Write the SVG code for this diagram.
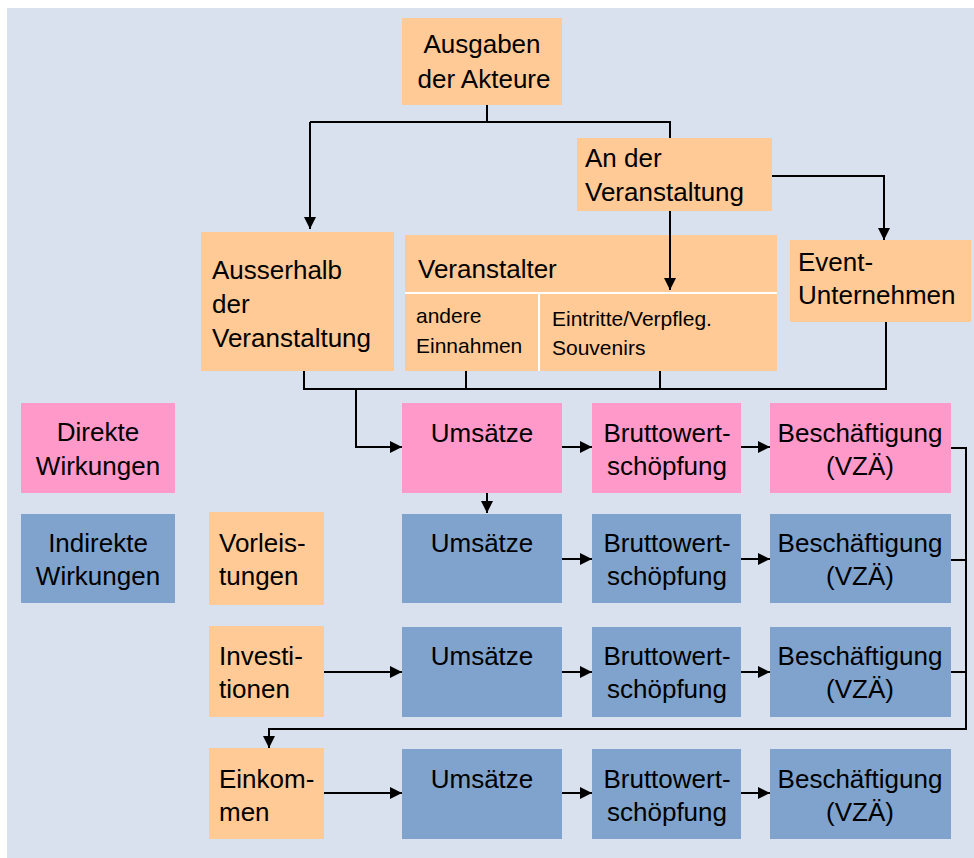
<svg xmlns="http://www.w3.org/2000/svg" width="974" height="858" viewBox="0 0 974 858">
<style>
text{font-family:"Liberation Sans",Arial,sans-serif;fill:#000}
.b{font-size:26px}
.s{font-size:21px}
.c{text-anchor:middle}
.o{fill:#FFCA96}
.p{fill:#FF99C9}
.u{fill:#7FA3CC}
.ln{fill:none;stroke:#000;stroke-width:2}
.wl{stroke:#fff;stroke-width:2}
</style>
<defs>
<marker id="ah" markerWidth="12" markerHeight="12" viewBox="0 0 12 12" refX="12" refY="6" orient="auto" markerUnits="userSpaceOnUse">
<path d="M0,0 L12,6 L0,12 Z" fill="#000"/>
</marker>
</defs>
<rect x="7" y="8" width="967" height="850" fill="#D8E1ED"/>

<g id="ausgaben"><rect class="o" x="402" y="18" width="160" height="87"/>
<text class="b c" x="482" y="53">Ausgaben</text><text class="b c" x="484" y="88">der Akteure</text></g>

<g id="an-der"><rect class="o" x="577" y="138" width="195" height="73"/>
<text class="b" x="585" y="167">An der</text><text class="b" x="585" y="201">Veranstaltung</text></g>

<g id="ausserhalb"><rect class="o" x="201" y="232" width="193" height="139"/>
<text class="b" x="212" y="279">Ausserhalb</text><text class="b" x="212" y="313">der</text><text class="b" x="212" y="347">Veranstaltung</text></g>

<g id="veranstalter"><rect class="o" x="405" y="235" width="372" height="136"/>
<line class="wl" x1="405" y1="293" x2="777" y2="293"/>
<line class="wl" x1="539" y1="293" x2="539" y2="371"/>
<text class="b" x="418" y="278">Veranstalter</text>
<text class="s" x="416" y="323">andere</text><text class="s" x="416" y="353">Einnahmen</text>
<text class="s" x="552" y="326">Eintritte/Verpfleg.</text><text class="s" x="552" y="355">Souvenirs</text></g>

<g id="event"><rect class="o" x="790" y="240" width="181" height="82"/>
<text class="b" x="798" y="271">Event-</text><text class="b" x="798" y="304">Unternehmen</text></g>

<g id="direkte"><rect class="p" x="21" y="403" width="154" height="90"/>
<text class="b c" x="98" y="441">Direkte</text><text class="b c" x="98" y="475">Wirkungen</text></g>
<g id="indirekte"><rect class="u" x="21" y="514" width="154" height="89"/>
<text class="b c" x="98" y="552">Indirekte</text><text class="b c" x="98" y="585">Wirkungen</text></g>

<g id="umsaetze1"><rect class="p" x="402" y="403" width="160" height="90"/><text class="b c" x="482" y="442">Umsätze</text></g>
<g id="brutto1"><rect class="p" x="592" y="403" width="149" height="90"/><text class="b c" x="667" y="442">Bruttowert-</text><text class="b c" x="667" y="475">schöpfung</text></g>
<g id="besch1"><rect class="p" x="770" y="403" width="181" height="90"/><text class="b c" x="860" y="442">Beschäftigung</text><text class="b c" x="860" y="475">(VZÄ)</text></g>

<g id="vorleistungen"><rect class="o" x="209" y="512" width="115" height="93"/><text class="b" x="219" y="552">Vorleis-</text><text class="b" x="219" y="585">tungen</text></g>
<g id="umsaetze2"><rect class="u" x="402" y="514" width="160" height="89"/><text class="b c" x="482" y="552">Umsätze</text></g>
<g id="brutto2"><rect class="u" x="592" y="514" width="149" height="89"/><text class="b c" x="667" y="552">Bruttowert-</text><text class="b c" x="667" y="585">schöpfung</text></g>
<g id="besch2"><rect class="u" x="770" y="514" width="181" height="89"/><text class="b c" x="860" y="552">Beschäftigung</text><text class="b c" x="860" y="585">(VZÄ)</text></g>

<g id="investitionen"><rect class="o" x="209" y="626" width="115" height="91"/><text class="b" x="219" y="665">Investi-</text><text class="b" x="219" y="698">tionen</text></g>
<g id="umsaetze3"><rect class="u" x="402" y="627" width="160" height="90"/><text class="b c" x="482" y="665">Umsätze</text></g>
<g id="brutto3"><rect class="u" x="592" y="627" width="149" height="90"/><text class="b c" x="667" y="665">Bruttowert-</text><text class="b c" x="667" y="698">schöpfung</text></g>
<g id="besch3"><rect class="u" x="770" y="627" width="181" height="90"/><text class="b c" x="860" y="665">Beschäftigung</text><text class="b c" x="860" y="698">(VZÄ)</text></g>

<g id="einkommen"><rect class="o" x="209" y="748" width="115" height="91"/><text class="b" x="219" y="788">Einkom-</text><text class="b" x="219" y="821">men</text></g>
<g id="umsaetze4"><rect class="u" x="402" y="749" width="160" height="90"/><text class="b c" x="482" y="788">Umsätze</text></g>
<g id="brutto4"><rect class="u" x="592" y="749" width="149" height="90"/><text class="b c" x="667" y="788">Bruttowert-</text><text class="b c" x="667" y="821">schöpfung</text></g>
<g id="besch4"><rect class="u" x="770" y="749" width="181" height="90"/><text class="b c" x="860" y="788">Beschäftigung</text><text class="b c" x="860" y="821">(VZÄ)</text></g>

<g id="connectors">
<path class="ln" d="M487,105 V122"/>
<path class="ln" d="M310,122 H670 V138"/>
<path class="ln" d="M310,122 V229" marker-end="url(#ah)"/>
<path class="ln" d="M670,211 V290" marker-end="url(#ah)"/>
<path class="ln" d="M772,176 H884 V240" marker-end="url(#ah)"/>
<path class="ln" d="M304,371 V389 H886 V322"/>
<path class="ln" d="M466,371 V389"/>
<path class="ln" d="M660,371 V389"/>
<path class="ln" d="M356,389 V447 H402" marker-end="url(#ah)"/>
<path class="ln" d="M487,493 V513" marker-end="url(#ah)"/>
<path class="ln" d="M562,447 H592" marker-end="url(#ah)"/>
<path class="ln" d="M741,447 H770" marker-end="url(#ah)"/>
<path class="ln" d="M562,559 H592" marker-end="url(#ah)"/>
<path class="ln" d="M741,559 H770" marker-end="url(#ah)"/>
<path class="ln" d="M324,672 H402" marker-end="url(#ah)"/>
<path class="ln" d="M562,672 H592" marker-end="url(#ah)"/>
<path class="ln" d="M741,672 H770" marker-end="url(#ah)"/>
<path class="ln" d="M324,793 H402" marker-end="url(#ah)"/>
<path class="ln" d="M562,793 H592" marker-end="url(#ah)"/>
<path class="ln" d="M741,793 H770" marker-end="url(#ah)"/>
<path class="ln" d="M951,448 H966 V729 H269 V748" marker-end="url(#ah)"/>
<path class="ln" d="M951,560 H966"/>
<path class="ln" d="M951,672 H966"/>
</g>
</svg>
